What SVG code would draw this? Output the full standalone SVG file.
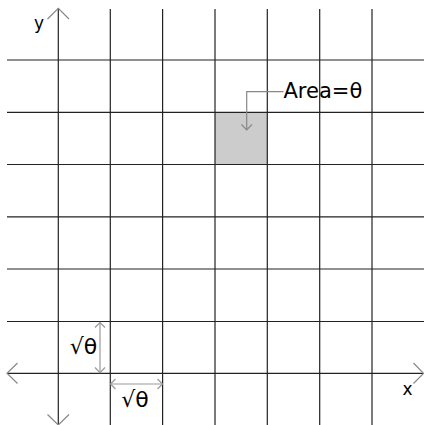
<svg xmlns="http://www.w3.org/2000/svg" width="424" height="425" viewBox="0 0 424 425">
<style>
.grid{stroke:#222;stroke-width:1.2;fill:none}
.head{stroke:#888;stroke-width:1.2;fill:none}
.dim{stroke:#999;stroke-width:1.2;fill:none}
.lbl{font-family:"DejaVu Sans",Verdana,sans-serif;fill:#000}
.sq{font-family:"DejaVu Sans",Verdana,sans-serif;fill:#000;font-size:22px;text-anchor:middle}
</style>
<rect width="424" height="425" fill="#fff"/>
<g id="shaded-cell"><rect x="215" y="112.4" width="52.3" height="52.2" fill="#cccccc"/></g>
<g id="connectors">
<g class="grid">
<line x1="58.3" y1="8" x2="58.3" y2="425"/>
<line x1="110.3" y1="9" x2="110.3" y2="425"/>
<line x1="162.6" y1="9" x2="162.6" y2="425"/>
<line x1="215" y1="9" x2="215" y2="425"/>
<line x1="267.3" y1="9" x2="267.3" y2="425"/>
<line x1="319.7" y1="9" x2="319.7" y2="425"/>
<line x1="372" y1="9" x2="372" y2="425"/>
<line x1="7" y1="60" x2="424" y2="60"/>
<line x1="7" y1="112.3" x2="424" y2="112.3"/>
<line x1="7" y1="164.5" x2="424" y2="164.5"/>
<line x1="7" y1="216.8" x2="424" y2="216.8"/>
<line x1="7" y1="269" x2="424" y2="269"/>
<line x1="7" y1="321.5" x2="424" y2="321.5"/>
<line x1="7" y1="373.3" x2="423" y2="373.3"/>
</g>
<g class="head">
<polyline points="47.5,19 58.3,8.3 69,19"/>
<polyline points="47.5,414.5 58.3,425 69,414.5"/>
<polyline points="17.5,363 7,373.3 17.5,383.5"/>
<polyline points="413.5,363 423.5,373.3 413.5,383.5"/>
</g>
<polyline class="head" points="283.5,91.7 246.7,91.7 246.7,130"/>
<polyline class="head" points="241.5,124.5 246.7,130 252,124.5"/>
<g class="dim">
<line x1="100" y1="322.5" x2="100" y2="372.7"/>
<polyline points="95,327.5 100,322.5 105,327.5"/>
<polyline points="95,367.5 100,372.7 105,367.5"/>
<line x1="110.5" y1="384" x2="162.5" y2="384"/>
<polyline points="115.5,379 110.5,384 115.5,389"/>
<polyline points="157.5,379 162.5,384 157.5,389"/>
</g>
</g>
<g id="label-y"><text class="lbl" x="39" y="29" font-size="17" text-anchor="middle">y</text></g>
<g id="label-x"><text class="lbl" x="407.5" y="395" font-size="17" text-anchor="middle">x</text></g>
<g id="label-area"><text class="lbl" x="283.5" y="98" font-size="21">Area=θ</text></g>
<g id="label-side-v"><text class="sq" x="83.5" y="354">√θ</text></g>
<g id="label-side-h"><text class="sq" x="135" y="406.5">√θ</text></g>
</svg>
